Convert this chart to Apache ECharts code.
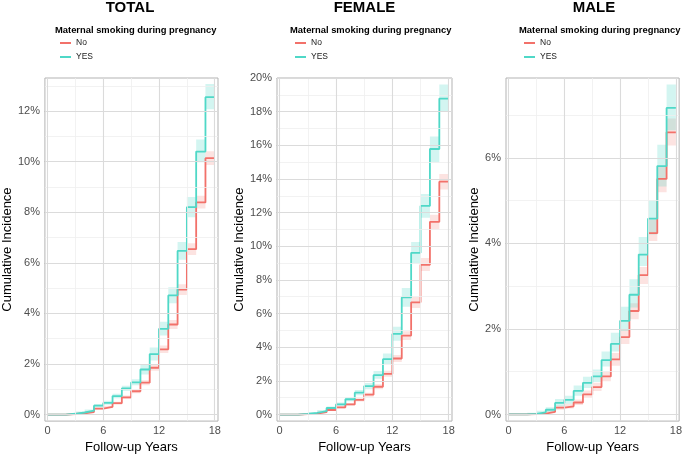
<!DOCTYPE html>
<html>
<head>
<meta charset="utf-8">
<script src="https://cdn.jsdelivr.net/npm/echarts@6/dist/echarts.min.js"></script>
<style>
  html, body { margin: 0; padding: 0; background: #fff; }
  #chart { width: 685px; height: 459px; }
</style>
</head>
<body>
<div id="chart"></div>
<script>
// follow-up year at which each step starts (value holds on [year, year+1))
const years = [0, 1, 2, 3, 4, 5, 6, 7, 8, 9, 10, 11, 12, 13, 14, 15, 16, 17];
const endYear = 18;
const xTicks = [0, 6, 12, 18];
const xMinor = [3, 9, 15];

// cumulative incidence (%) - TOTAL
const totalNo    = [0, 0, 0.02, 0.05, 0.10, 0.23, 0.30, 0.45, 0.68, 0.92, 1.26, 1.85, 2.58, 3.56, 4.94, 6.54, 8.39, 10.14];
const totalNoLo  = [0, 0, 0.01, 0.03, 0.07, 0.19, 0.25, 0.39, 0.61, 0.84, 1.16, 1.73, 2.43, 3.38, 4.73, 6.31, 8.15, 9.87];
const totalNoHi  = [0, 0, 0.03, 0.07, 0.13, 0.27, 0.35, 0.51, 0.75, 1.00, 1.36, 1.97, 2.73, 3.74, 5.15, 6.77, 8.65, 10.41];
const totalYes   = [0, 0, 0.03, 0.08, 0.15, 0.35, 0.46, 0.73, 1.03, 1.27, 1.78, 2.39, 3.39, 4.71, 6.47, 8.20, 10.40, 12.55];
const totalYesLo = [0, 0, 0.01, 0.05, 0.11, 0.28, 0.39, 0.64, 0.93, 1.16, 1.58, 2.14, 3.13, 4.40, 6.12, 7.80, 9.98, 12.07];
const totalYesHi = [0, 0, 0.05, 0.12, 0.20, 0.42, 0.54, 0.82, 1.14, 1.40, 2.00, 2.65, 3.67, 5.03, 6.82, 8.60, 10.88, 13.07];

// FEMALE
const femNo    = [0, 0, 0.02, 0.06, 0.14, 0.27, 0.43, 0.60, 0.87, 1.18, 1.65, 2.42, 3.33, 4.69, 6.67, 8.90, 11.45, 13.84];
const femNoLo  = [0, 0, 0.01, 0.04, 0.10, 0.22, 0.36, 0.52, 0.77, 1.06, 1.50, 2.24, 3.12, 4.43, 6.33, 8.53, 11.00, 13.37];
const femNoHi  = [0, 0, 0.03, 0.08, 0.18, 0.32, 0.50, 0.68, 0.97, 1.30, 1.80, 2.60, 3.54, 4.95, 7.00, 9.30, 11.88, 14.30];
const femYes   = [0, 0, 0.04, 0.10, 0.20, 0.39, 0.60, 0.91, 1.30, 1.69, 2.34, 3.29, 4.79, 6.96, 9.61, 12.40, 15.78, 18.78];
const femYesLo = [0, 0, 0.01, 0.06, 0.14, 0.31, 0.50, 0.79, 1.15, 1.51, 2.12, 3.00, 4.38, 6.40, 8.98, 11.70, 14.98, 17.98];
const femYesHi = [0, 0, 0.07, 0.15, 0.27, 0.48, 0.71, 1.04, 1.46, 1.88, 2.58, 3.62, 5.22, 7.52, 10.25, 13.10, 16.53, 19.62];

// MALE
const maleNo    = [0, 0, 0.01, 0.02, 0.06, 0.16, 0.19, 0.28, 0.47, 0.64, 0.89, 1.29, 1.81, 2.42, 3.26, 4.24, 5.51, 6.60];
const maleNoLo  = [0, 0, 0.00, 0.01, 0.03, 0.11, 0.14, 0.22, 0.39, 0.55, 0.78, 1.14, 1.65, 2.23, 3.05, 4.06, 5.20, 6.29];
const maleNoHi  = [0, 0, 0.02, 0.04, 0.09, 0.21, 0.25, 0.35, 0.56, 0.74, 1.01, 1.44, 2.00, 2.60, 3.45, 4.56, 5.81, 6.92];
const maleYes   = [0, 0, 0.015, 0.05, 0.11, 0.27, 0.34, 0.55, 0.74, 0.89, 1.27, 1.65, 2.19, 2.80, 3.74, 4.58, 5.81, 7.17];
const maleYesLo = [0, 0, 0.00, 0.02, 0.06, 0.19, 0.25, 0.44, 0.62, 0.76, 1.12, 1.47, 1.95, 2.50, 3.47, 4.21, 5.33, 6.65];
const maleYesHi = [0, 0, 0.04, 0.09, 0.17, 0.36, 0.44, 0.68, 0.88, 1.05, 1.47, 1.91, 2.52, 3.16, 4.15, 5.01, 6.31, 7.72];

const totalYTicks = [0, 2, 4, 6, 8, 10, 12];
const totalYMinor = [1, 3, 5, 7, 9, 11, 13];
const femYTicks = [0, 2, 4, 6, 8, 10, 12, 14, 16, 18, 20];
const femYMinor = [1, 3, 5, 7, 9, 11, 13, 15, 17, 19];
const maleYTicks = [0, 2, 4, 6];
const maleYMinor = [1, 3, 5, 7];

const colNo = '#F2716A';
const colYes = '#4FD8C7';
const font = 'Liberation Sans, Arial, sans-serif';

const panels = [
  { title: 'TOTAL', no: totalNo, noLo: totalNoLo, noHi: totalNoHi, yes: totalYes, yesLo: totalYesLo, yesHi: totalYesHi,
    yMin: -0.26, yMax: 13.31, yTicks: totalYTicks, yMinor: totalYMinor, left: 42, width: 176, nameGap: 26 },
  { title: 'FEMALE', no: femNo, noLo: femNoLo, noHi: femNoHi, yes: femYes, yesLo: femYesLo, yesHi: femYesHi,
    yMin: -0.39, yMax: 20, yTicks: femYTicks, yMinor: femYMinor, left: 277, width: 175, nameGap: 28 },
  { title: 'MALE', no: maleNo, noLo: maleNoLo, noHi: maleNoHi, yes: maleYes, yesLo: maleYesLo, yesHi: maleYesHi,
    yMin: -0.155, yMax: 7.87, yTicks: maleYTicks, yMinor: maleYMinor, left: 506, width: 176, nameGap: 25 }
];

// step data: each level holds until the next year, last one until endYear
function stepData(vals) {
  const d = years.map((x, k) => [x, vals[k]]);
  d.push([endYear, vals[vals.length - 1]]);
  return d;
}

// one polygon for a confidence band, corners mapped through the axes
function bandRenderer(lo, hi, fill) {
  return function (params, api) {
    if (params.dataIndexInside !== 0) return null;
    const top = [], bottom = [];
    years.forEach((x, k) => {
      const x1 = k + 1 < years.length ? years[k + 1] : endYear;
      top.push(api.coord([x, hi[k]]), api.coord([x1, hi[k]]));
      bottom.push(api.coord([x, lo[k]]), api.coord([x1, lo[k]]));
    });
    return {
      type: 'polygon',
      shape: { points: top.concat(bottom.reverse()) },
      style: { fill: fill },
      silent: true
    };
  };
}

const grids = [], xAxes = [], yAxes = [], series = [], legends = [], graphics = [];

panels.forEach((p, i) => {
  grids.push({
    left: p.left, top: 78, width: p.width, height: 351.5,
    show: true, borderColor: '#B3B3B3', borderWidth: 1, backgroundColor: 'transparent'
  });
  xAxes.push({
    type: 'value', gridIndex: i, min: -0.28, max: 18.35,
    axisLine: { show: false },
    axisTick: { show: true, length: 3, customValues: xTicks, lineStyle: { color: '#B3B3B3' } },
    axisLabel: { customValues: xTicks, fontSize: 11, color: '#4D4D4D', margin: 4, fontFamily: font },
    splitLine: { show: false },
    name: 'Follow-up Years', nameLocation: 'middle', nameGap: 15,
    nameTextStyle: { fontSize: 13, color: '#000', fontFamily: font }
  });
  yAxes.push({
    type: 'value', gridIndex: i, min: p.yMin, max: p.yMax,
    axisLine: { show: false },
    axisTick: { show: true, length: 3, customValues: p.yTicks, lineStyle: { color: '#B3B3B3' } },
    axisLabel: { customValues: p.yTicks, formatter: v => v + '%', fontSize: 11, color: '#4D4D4D', margin: 5, fontFamily: font },
    splitLine: { show: false },
    name: 'Cumulative Incidence', nameLocation: 'middle', nameGap: p.nameGap,
    nameTextStyle: { fontSize: 13, color: '#000', fontFamily: font }
  });

  // panel grid lines, placed through the axes
  const gl = [];
  xMinor.forEach(v => gl.push({ xAxis: v, lineStyle: { color: '#EFEFEF', width: 0.8, type: 'solid' } }));
  p.yMinor.forEach(v => gl.push({ yAxis: v, lineStyle: { color: '#EFEFEF', width: 0.8, type: 'solid' } }));
  xTicks.forEach(v => gl.push({ xAxis: v, lineStyle: { color: '#DBDBDB', width: 1.1, type: 'solid' } }));
  p.yTicks.forEach(v => gl.push({ yAxis: v, lineStyle: { color: '#DBDBDB', width: 1.1, type: 'solid' } }));
  series.push({
    type: 'line', xAxisIndex: i, yAxisIndex: i, data: [[0, 0]], z: 1,
    showSymbol: false, lineStyle: { opacity: 0 }, silent: true,
    markLine: { silent: true, symbol: ['none', 'none'], label: { show: false }, data: gl, animation: false }
  });

  // confidence bands
  series.push({
    type: 'custom', xAxisIndex: i, yAxisIndex: i, z: 2, silent: true,
    data: stepData(p.noHi), encode: { x: 0, y: 1 },
    renderItem: bandRenderer(p.noLo, p.noHi, 'rgba(242,113,106,0.2)')
  });
  series.push({
    type: 'custom', xAxisIndex: i, yAxisIndex: i, z: 2, silent: true,
    data: stepData(p.yesHi), encode: { x: 0, y: 1 },
    renderItem: bandRenderer(p.yesLo, p.yesHi, 'rgba(79,216,199,0.25)')
  });

  // curves
  series.push({
    name: 'No', type: 'line', xAxisIndex: i, yAxisIndex: i, step: 'end', z: 3,
    data: stepData(p.no), showSymbol: false, symbol: 'none', color: colNo, lineStyle: { color: colNo, width: 1.8 }
  });
  series.push({
    name: 'YES', type: 'line', xAxisIndex: i, yAxisIndex: i, step: 'end', z: 4,
    data: stepData(p.yes), showSymbol: false, symbol: 'none', color: colYes, lineStyle: { color: colYes, width: 1.8 }
  });

  legends.push({
    left: p.left + 18, top: 38, orient: 'vertical', padding: 0, itemGap: 4,
    data: ['No', 'YES'], icon: 'rect', itemWidth: 11, itemHeight: 2,
    textStyle: { fontSize: 8.5, color: '#1A1A1A', fontFamily: font, lineHeight: 10 }
  });

  graphics.push({
    type: 'text', x: p.left + p.width / 2, y: 7.5,
    style: { text: p.title, fontSize: 15, fontWeight: 'bold', fontFamily: font, fill: '#000', align: 'center', verticalAlign: 'middle' }
  });
  graphics.push({
    type: 'text', x: p.left + 13, y: 30,
    style: { text: 'Maternal smoking during pregnancy', fontSize: 9.4, fontWeight: 'bold', fontFamily: font, fill: '#000', align: 'left', verticalAlign: 'middle' }
  });
});

const chart = echarts.init(document.getElementById('chart'));
chart.setOption({
  animation: false,
  backgroundColor: '#fff',
  grid: grids,
  xAxis: xAxes,
  yAxis: yAxes,
  legend: legends,
  graphic: graphics,
  series: series
});
</script>
</body>
</html>
